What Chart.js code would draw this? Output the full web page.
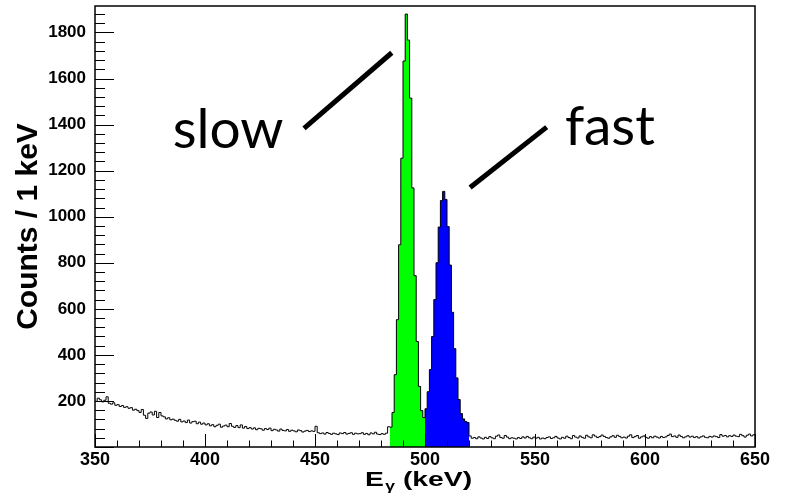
<!DOCTYPE html>
<html>
<head>
<meta charset="utf-8">
<script src="https://cdn.jsdelivr.net/npm/chart.js@4.4.1/dist/chart.umd.min.js"></script>
<style>
  html, body { margin: 0; padding: 0; background: #fff; }
  #wrap { width: 785px; height: 502px; }
</style>
</head>
<body>
<div id="wrap"><canvas id="spectrum"></canvas></div>
<script>
// counts per 1 keV bin
const binStart = 350;
const binEnd = 650;

// 350 .. 483 keV, background below the peaks
const bgLow = [
  198, 212, 205, 196, 203, 218, 190, 186, 192, 181,
  184, 176, 180, 172, 175, 168, 171, 160, 164, 158,
  150, 163, 138, 124, 147, 152, 139, 155, 128, 150,
  135, 131, 122, 127, 118, 121, 116, 112, 120, 109,
  113, 106, 117, 104, 110, 112, 101, 108, 99, 104,
  96, 101, 92, 97, 88, 94, 99, 86, 91, 95,
  88, 102, 90, 85, 93, 84, 96, 82, 89, 80,
  84, 78, 83, 75, 81, 79, 73, 80, 76, 82,
  71, 77, 74, 69, 78, 72, 70, 76, 68, 73,
  70, 66, 74, 71, 65, 69, 72, 67, 70, 68,
  90, 62, 58, 61, 56, 63, 59, 55, 60, 57,
  54, 61, 58, 63, 56, 59, 62, 55, 60, 57,
  58, 62, 55, 59, 53, 61, 57, 64, 56, 54,
  58, 55, 60, 88
];
// 484 .. 499 keV, slow component (green)
const slowPeak = [86, 150, 314, 553, 878, 1254, 1676, 1880, 1767, 1515, 1125, 744, 458, 263, 158, 128];
// 500 .. 519 keV, fast component (blue)
const fastPeak = [166, 240, 336, 480, 640, 800, 955, 1070, 1110, 1075, 957, 790, 585, 427, 300, 206, 145, 122, 111, 106];
// 520 .. 649 keV, background above the peaks
const bgHigh = [
  48, 38, 41, 36, 44, 39, 35, 42, 37, 45,
  40, 36, 47, 52, 41, 38, 50, 43, 36, 40,
  38, 35, 41, 37, 44, 39, 46, 40, 36, 43,
  38, 42, 35, 39, 36, 41, 44, 37, 40, 46,
  39, 35, 42, 38, 47, 41, 36, 50, 43, 39,
  48, 42, 38, 51, 44, 40, 53, 47, 41, 45,
  52, 46, 41, 38, 44, 49, 42, 51, 46, 40,
  43, 39, 47, 53, 41, 45, 50, 38, 44, 48,
  42, 38, 45, 40, 47, 43, 39, 46, 41, 44,
  50, 56, 45, 48, 42, 52, 46, 40, 44, 49,
  43, 47, 41, 45, 39, 44, 48, 42, 40, 46,
  43, 48, 45, 41, 54, 47, 50, 44, 49, 46,
  52, 47, 45, 55, 49, 43, 51, 56, 48, 53
];

const xTicks = [350, 400, 450, 500, 550, 600, 650];
const yTicks = [200, 400, 600, 800, 1000, 1200, 1400, 1600, 1800];
const yMax = 1915;

const counts = bgLow.concat(slowPeak, fastPeak, bgHigh);
const slowStart = binStart + bgLow.length;
const fastStart = slowStart + slowPeak.length;

// step points at the left edge of each bin, plus the closing edge
function steps(values, start) {
  const pts = values.map((v, i) => ({ x: start + i, y: v }));
  pts.push({ x: start + values.length, y: values[values.length - 1] });
  return pts;
}

Chart.defaults.font.family = '"Liberation Sans", Arial, sans-serif';
Chart.defaults.color = '#000';

const rootFrame = {
  id: 'rootFrame',
  afterDatasetsDraw(chart) {
    const { ctx, chartArea: a, scales: { x, y } } = chart;
    ctx.save();
    ctx.strokeStyle = '#000';
    ctx.lineWidth = 1;
    ctx.beginPath();
    // ticks point inwards like ROOT
    for (let v = binStart; v <= binEnd; v += 10) {
      const px = Math.round(x.getPixelForValue(v)) + 0.5;
      const len = v % 50 === 0 ? 13 : 6.5;
      ctx.moveTo(px, a.bottom);
      ctx.lineTo(px, a.bottom - len);
    }
    for (let v = 0; v <= yMax; v += 40) {
      const py = Math.round(y.getPixelForValue(v)) + 0.5;
      const len = v % 200 === 0 ? 19 : 10;
      ctx.moveTo(a.left, py);
      ctx.lineTo(a.left + len, py);
    }
    ctx.stroke();
    ctx.lineWidth = 1.5;
    ctx.strokeRect(a.left, a.top, a.right - a.left, a.bottom - a.top);

    // x axis title with subscript gamma
    ctx.fillStyle = '#000';
    ctx.textBaseline = 'alphabetic';
    ctx.translate(365, 486);
    ctx.scale(1.35, 1);
    ctx.font = 'bold 21px "Liberation Sans"';
    ctx.fillText('E', 0, 0);
    let w = ctx.measureText('E').width;
    ctx.font = 'bold 13px "Liberation Sans"';
    ctx.fillText('\u03B3', w + 1, 4);
    w += 1 + ctx.measureText('\u03B3').width;
    ctx.font = 'bold 21px "Liberation Sans"';
    ctx.fillText(' (keV)', w, 0);
    ctx.restore();

    // slow / fast labels with pointer lines
    const notes = [
      { text: 'slow', at: [385.3, 1299], line: [[445.0, 1384], [484.9, 1712]] },
      { text: 'fast', at: [563.6, 1312], line: [[520.5, 1127], [555.3, 1389]] }
    ];
    ctx.save();
    ctx.fillStyle = '#000';
    ctx.strokeStyle = '#000';
    ctx.lineWidth = 5;
    ctx.lineCap = 'butt';
    ctx.font = '55px Lato, "Open Sans", sans-serif';
    ctx.textBaseline = 'alphabetic';
    notes.forEach(n => {
      ctx.fillText(n.text, x.getPixelForValue(n.at[0]), y.getPixelForValue(n.at[1]));
      ctx.beginPath();
      ctx.moveTo(x.getPixelForValue(n.line[0][0]), y.getPixelForValue(n.line[0][1]));
      ctx.lineTo(x.getPixelForValue(n.line[1][0]), y.getPixelForValue(n.line[1][1]));
      ctx.stroke();
    });
    ctx.restore();
  }
};

new Chart(document.getElementById('spectrum'), {
  type: 'line',
  data: {
    datasets: [
      {
        label: 'spectrum',
        data: steps(counts, binStart),
        stepped: 'before',
        borderColor: '#000',
        borderWidth: 1,
        pointRadius: 0,
        fill: false,
        order: 0
      },
      {
        label: 'slow',
        data: steps(slowPeak, slowStart),
        stepped: 'before',
        borderColor: 'transparent',
        backgroundColor: '#00ff00',
        pointRadius: 0,
        fill: 'origin',
        order: 1
      },
      {
        label: 'fast',
        data: steps(fastPeak, fastStart),
        stepped: 'before',
        borderColor: 'transparent',
        backgroundColor: '#0000ff',
        pointRadius: 0,
        fill: 'origin',
        order: 1
      }
    ]
  },
  options: {
    responsive: true,
    maintainAspectRatio: false,
    animation: false,
    layout: { padding: { top: 6, right: 30, left: 0, bottom: 0 } },
    plugins: { legend: { display: false }, tooltip: { enabled: false } },
    scales: {
      x: {
        type: 'linear',
        min: binStart,
        max: binEnd,
        afterBuildTicks: s => { s.ticks = xTicks.map(v => ({ value: v })); },
        afterFit: s => { s.height = 55; s.paddingLeft = 0; s.paddingRight = 0; },
        ticks: { font: { size: 18, weight: 'bold' }, padding: 2, maxRotation: 0 },
        grid: { display: false, drawTicks: false },
        border: { display: false }
      },
      y: {
        min: 0,
        max: yMax,
        afterBuildTicks: s => { s.ticks = yTicks.map(v => ({ value: v })); },
        afterFit: s => { s.width = 95; s.paddingTop = 0; s.paddingBottom = 0; },
        ticks: { font: { size: 17, weight: 'bold' }, padding: 9, callback: v => String(v) },
        grid: { display: false, drawTicks: false },
        border: { display: false },
        title: {
          display: true,
          text: 'Counts / 1 keV',
          font: { size: 30, weight: 'bold' },
          padding: { top: 11, bottom: 0 }
        }
      }
    }
  },
  plugins: [rootFrame]
});
</script>
</body>
</html>
